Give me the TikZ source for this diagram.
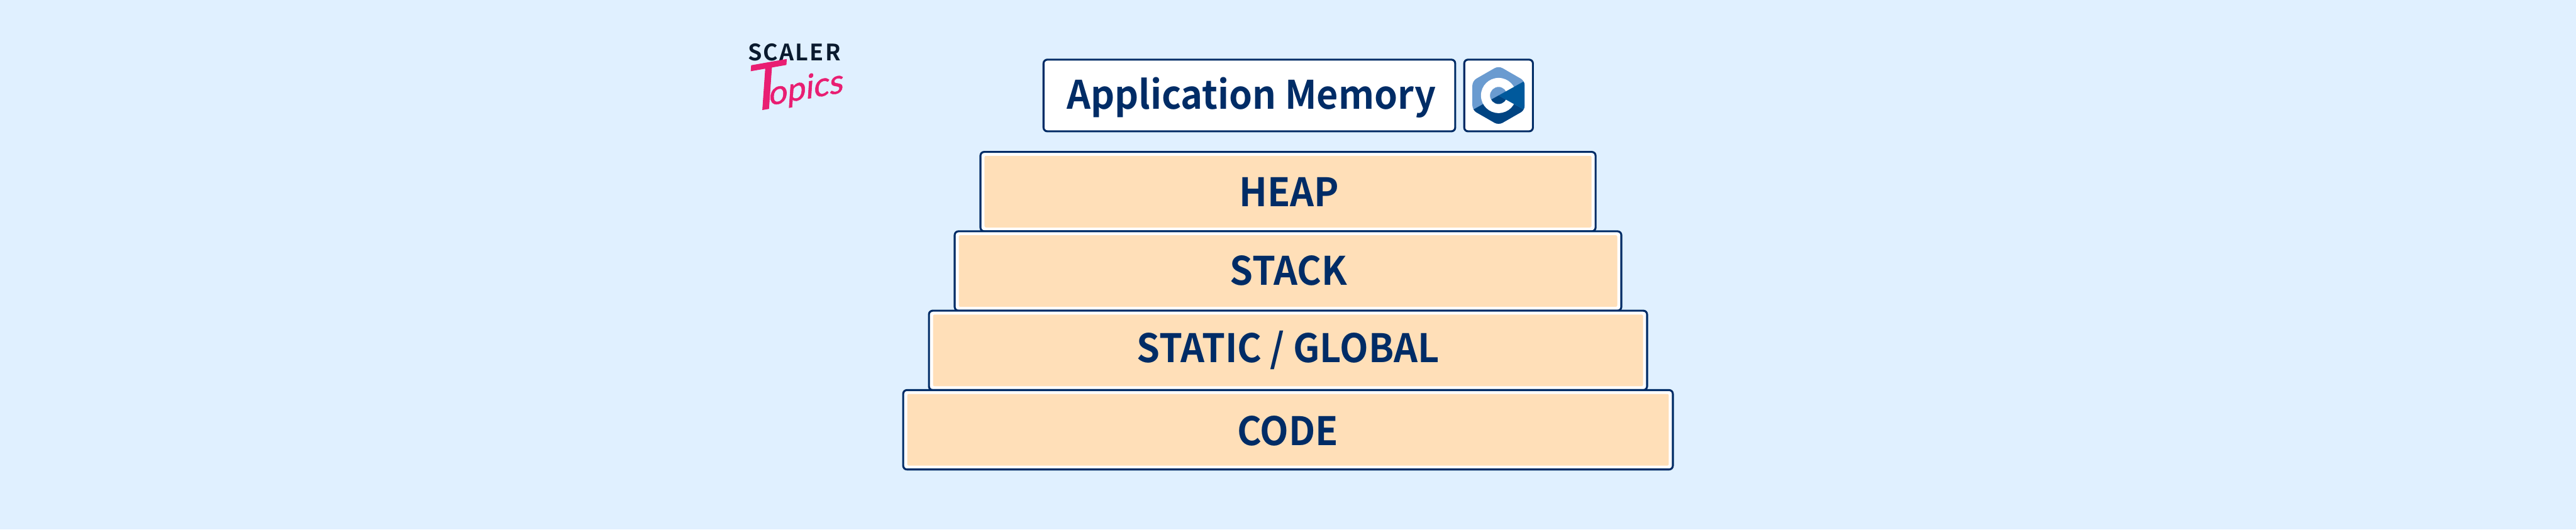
\documentclass[tikz,border=0pt]{standalone}
\usepackage{fontspec}
\setmainfont{Liberation Serif}
\newfontfamily\labelfont[FakeStretch=0.95]{Noto Sans CJK SC Bold}
\newfontfamily\scalerfont[LetterSpace=6]{Noto Sans CJK SC Bold}
\newfontfamily\topicsfont[FakeSlant=0.25,FakeBold=1]{Lato}
\definecolor{pagecolor}{HTML}{E0F0FF}
\definecolor{navycolor}{HTML}{002C66}
\definecolor{peachcolor}{HTML}{FFDFB8}
\definecolor{inkcolor}{HTML}{0A1A2E}
\definecolor{pinkcolor}{HTML}{E91E72}
\definecolor{clightcolor}{HTML}{6A9BD0}
\definecolor{cmidcolor}{HTML}{004482}
\definecolor{cdarkcolor}{HTML}{00599C}
\tikzset{
  layerbox/.style={draw=navycolor,line width=1.3pt,fill=white,rounded corners=2.5pt,minimum height=1.85cm,inner sep=0pt},
  layerfill/.style={fill=peachcolor,rounded corners=1pt,minimum height=1.67cm,inner sep=0pt},
  layertext/.style={text=navycolor,anchor=base,inner sep=0pt,font=\labelfont\fontsize{26}{30}\selectfont},
  titlebox/.style={draw=navycolor,line width=1.3pt,fill=white,rounded corners=2.5pt,minimum height=1.67cm,inner sep=0pt}
}
\begin{document}
\begin{tikzpicture}
\fill[pagecolor] (0,0) rectangle (60.01,12.34);
\useasboundingbox (0,0) rectangle (60.01,12.34);
% logo
\node[text=inkcolor,anchor=base,inner sep=0pt,font=\scalerfont\fontsize{15}{18}\selectfont] (scaler) at (18.505,10.92) {SCALER};
\node[text=pinkcolor,anchor=base west,inner sep=0pt,rotate=10,font=\topicsfont\fontsize{42}{48}\selectfont] (topics) at (17.40,9.72) {T\kern-10pt\raisebox{2pt}{\fontsize{22}{26}\selectfont opics}};
% title row
\node[titlebox,minimum width=9.59cm] (title) at (29.105,10.115) {};
\node[layertext] (titletext) at (29.15,9.80) {Application Memory};
\node[titlebox,minimum width=1.60cm] (logobox) at (34.91,10.115) {};
% c logo
\begin{scope}[shift={(34.91,10.115)},scale=0.01]
\fill[clightcolor,rounded corners=3pt] (0,69) -- (61,34) -- (61,-34) -- (0,-69) -- (-61,-34) -- (-61,34) -- cycle;
\begin{scope}
\clip[rounded corners=3pt] (0,69) -- (61,34) -- (61,-34) -- (0,-69) -- (-61,-34) -- (-61,34) -- cycle;
\fill[cmidcolor] (-61,-34) -- (0,0) -- (61,-34) -- (61,-69) -- (-61,-69) -- cycle;
\fill[white,even odd rule] (0,0) circle (41) (0,0) circle (20);
\fill[cdarkcolor] (0,0) -- (61,34) -- (61,-34) -- cycle;
\end{scope}
\end{scope}
% layers
\node[layerbox,minimum width=14.33cm] (heap) at (30.005,7.875) {};
\node[layerfill,minimum width=14.14cm] (heapfill) at (heap) {};
\node[layertext] (heaptext) at (30.03,7.52) {HEAP};
\node[layerbox,minimum width=15.53cm] (stack) at (30.005,6.025) {};
\node[layerfill,minimum width=15.34cm] (stackfill) at (stack) {};
\node[layertext] (stacktext) at (30.02,5.69) {STACK};
\node[layerbox,minimum width=16.73cm] (static) at (30.005,4.175) {};
\node[layerfill,minimum width=16.54cm] (staticfill) at (static) {};
\node[layertext] (statictext) at (30.01,3.89) {STATIC / GLOBAL};
\node[layerbox,minimum width=17.93cm] (code) at (30.005,2.325) {};
\node[layerfill,minimum width=17.74cm] (codefill) at (code) {};
\node[layertext] (codetext) at (30.00,1.96) {CODE};
\end{tikzpicture}
\end{document}
